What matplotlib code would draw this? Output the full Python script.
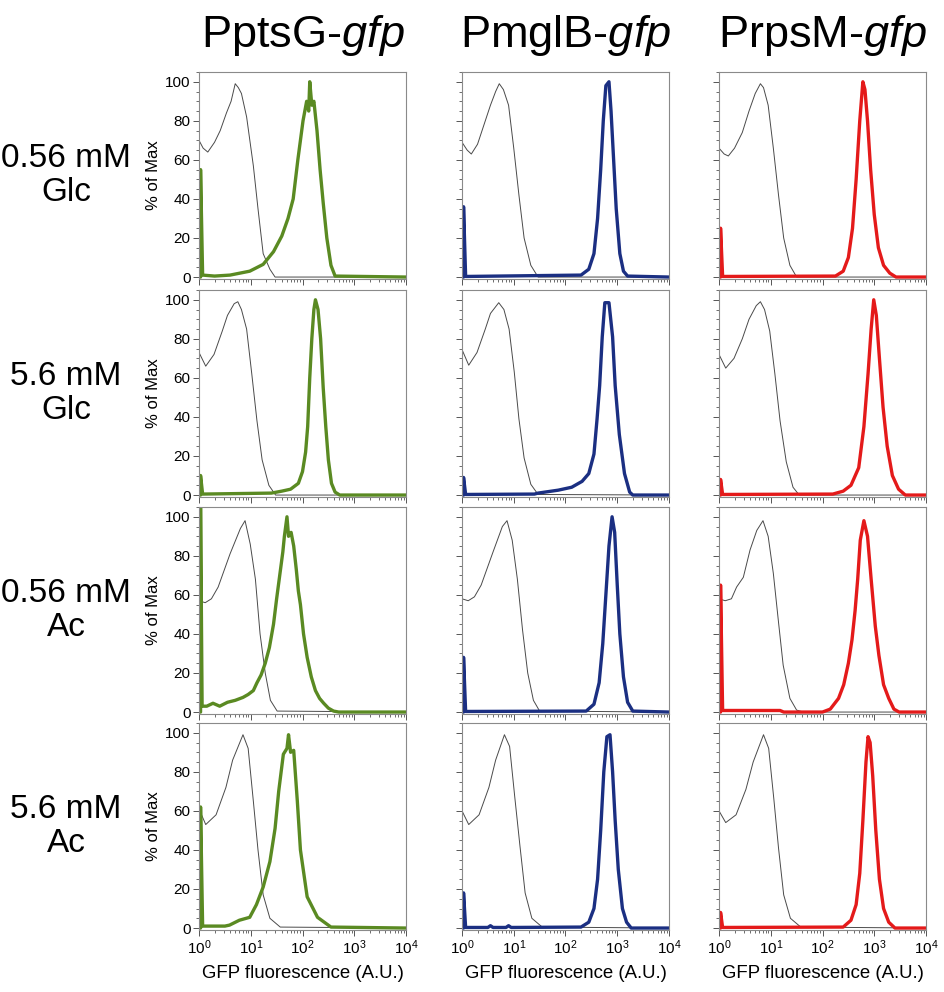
import numpy as np
import matplotlib
matplotlib.use("Agg")
import matplotlib.pyplot as plt
from matplotlib.ticker import MultipleLocator, FixedLocator, NullFormatter, FixedFormatter

plt.rcParams['font.family'] = ['Liberation Sans', 'DejaVu Sans']
plt.rcParams['mathtext.fontset'] = 'custom'
plt.rcParams['mathtext.rm'] = 'Liberation Sans'
plt.rcParams['mathtext.it'] = 'Liberation Sans:italic'

# ---------------- data (log10 of GFP fluorescence, % of Max) ----------------
promoters = ['PptsG', 'PmglB', 'PrpsM']
conditions = ['0.56 mM\nGlc', '5.6 mM\nGlc', '0.56 mM\nAc', '5.6 mM\nAc']
promoter_colors = ['#5a8a22', '#1b2f82', '#e41a1a']
x_tick_exponents = [0, 1, 2, 3, 4]
y_ticks = [0, 20, 40, 60, 80, 100]

# control (non-fluorescent) histograms
ctrl_glc056_ptsg_lx = [0, 0.08, 0.17, 0.3, 0.41, 0.53, 0.62, 0.7, 0.76, 0.82, 0.92, 1.05, 1.14, 1.24, 1.37, 1.47, 4.0]
ctrl_glc056_ptsg_y = [70, 66, 64, 69, 75, 84, 90, 99, 97, 94, 82, 57, 35, 12, 4, 0, 0]
ctrl_glc056_mglb_lx = [0, 0.1, 0.18, 0.3, 0.45, 0.55, 0.65, 0.72, 0.8, 0.9, 1.0, 1.1, 1.2, 1.33, 1.47, 4.0]
ctrl_glc056_mglb_y = [69, 65, 63, 68, 80, 88, 95, 99, 96, 88, 66, 42, 20, 6, 0, 0]
ctrl_glc056_rpsm_lx = [0, 0.1, 0.18, 0.3, 0.45, 0.58, 0.7, 0.8, 0.86, 0.95, 1.05, 1.15, 1.25, 1.37, 1.5, 4.0]
ctrl_glc056_rpsm_y = [66, 63, 62, 66, 74, 85, 94, 99, 97, 88, 66, 42, 20, 6, 0, 0]

ctrl_glc56_ptsg_lx = [0, 0.13, 0.29, 0.45, 0.55, 0.68, 0.75, 0.82, 0.92, 1.02, 1.12, 1.22, 1.35, 1.48, 4.0]
ctrl_glc56_ptsg_y = [73, 66, 72, 84, 92, 98, 99, 95, 85, 62, 38, 18, 5, 0, 0]
ctrl_glc56_mglb_lx = [0, 0.13, 0.29, 0.45, 0.55, 0.71, 0.81, 0.91, 1.01, 1.1, 1.2, 1.33, 1.47, 4.0]
ctrl_glc56_mglb_y = [74.5, 66.5, 73, 85, 93, 98.5, 95, 85, 63, 39, 19, 5.5, 0.3, 0]
ctrl_glc56_rpsm_lx = [0, 0.13, 0.29, 0.45, 0.58, 0.72, 0.8, 0.88, 0.98, 1.08, 1.18, 1.3, 1.43, 1.55, 4.0]
ctrl_glc56_rpsm_y = [72, 65, 70, 80, 90, 97, 99, 95, 84, 62, 38, 17, 4, 0, 0]

ctrl_ac056_ptsg_lx = [0, 0.12, 0.24, 0.37, 0.6, 0.8, 0.89, 0.99, 1.09, 1.18, 1.28, 1.38, 1.51, 4.0]
ctrl_ac056_ptsg_y = [57, 56, 58, 64, 81, 94, 98, 86, 68, 40, 20, 6, 0.5, 0]
ctrl_ac056_mglb_lx = [0, 0.12, 0.24, 0.37, 0.6, 0.78, 0.87, 0.97, 1.07, 1.17, 1.27, 1.38, 1.5, 4.0]
ctrl_ac056_mglb_y = [58, 57, 59, 65, 82, 95, 98, 88, 68, 42, 20, 6, 0.5, 0]
ctrl_ac056_rpsm_lx = [0, 0.12, 0.24, 0.34, 0.47, 0.6, 0.73, 0.85, 0.95, 1.05, 1.15, 1.24, 1.37, 1.5, 1.63, 4.0]
ctrl_ac056_rpsm_y = [58, 57, 58, 64, 69, 83, 93, 98, 90, 71, 46, 24, 7, 1, 0, 0]

ctrl_ac56_ptsg_lx = [0, 0.13, 0.33, 0.52, 0.65, 0.85, 0.95, 1.05, 1.14, 1.24, 1.37, 1.57, 4.0]
ctrl_ac56_ptsg_y = [61, 53, 58, 72, 86, 99, 92, 65, 40, 17, 5, 0.5, 0]
ctrl_ac56_mglb_lx = [0, 0.13, 0.33, 0.52, 0.65, 0.82, 0.92, 1.02, 1.12, 1.22, 1.35, 1.55, 4.0]
ctrl_ac56_mglb_y = [60, 53, 58, 72, 86, 99, 93, 67, 42, 18, 5, 0.5, 0]
ctrl_ac56_rpsm_lx = [0, 0.13, 0.33, 0.52, 0.66, 0.86, 0.96, 1.06, 1.15, 1.25, 1.38, 1.58, 4.0]
ctrl_ac56_rpsm_y = [60, 54, 58, 71, 85, 99, 92, 66, 41, 17, 5, 0.5, 0]

# reporter histograms
gfp_glc056_ptsg_lx = [0, 0.03, 0.03, 0.07, 0.3, 0.6, 0.98, 1.24, 1.44, 1.6, 1.72, 1.82, 1.91, 2.01, 2.08, 2.12, 2.14, 2.18, 2.22, 2.28, 2.34, 2.4, 2.47, 2.55, 2.63, 4.0]
gfp_glc056_ptsg_y = [0, 0, 55, 1, 0.5, 1, 3, 6.5, 13, 21, 30, 40, 60, 80, 90, 85, 100, 88, 90, 75, 55, 38, 20, 6, 0.5, 0]
gfp_glc056_mglb_lx = [0, 0.03, 0.03, 0.07, 2.3, 2.45, 2.55, 2.62, 2.68, 2.73, 2.78, 2.84, 2.88, 2.93, 2.98, 3.05, 3.12, 3.2, 4.0]
gfp_glc056_mglb_y = [0, 0, 36, 0.3, 1, 4, 12, 30, 55, 80, 98, 100, 85, 60, 35, 12, 3, 0.5, 0]
gfp_glc056_rpsm_lx = [0, 0.03, 0.03, 0.07, 2.25, 2.4, 2.5, 2.58, 2.65, 2.72, 2.78, 2.82, 2.87, 2.93, 3.0, 3.08, 3.18, 3.3, 3.42, 4.0]
gfp_glc056_rpsm_y = [0, 0, 25, 0.3, 0.5, 3, 10, 25, 50, 80, 100, 96, 80, 55, 32, 15, 6, 2, 0, 0]

gfp_glc56_ptsg_lx = [0, 0.03, 0.03, 0.07, 1.4, 1.6, 1.77, 1.92, 2.0, 2.06, 2.1, 2.14, 2.18, 2.22, 2.25, 2.3, 2.35, 2.4, 2.45, 2.5, 2.56, 2.63, 2.72, 4.0]
gfp_glc56_ptsg_y = [0, 0, 10, 0.5, 1, 2, 3, 6, 12, 22, 35, 60, 80, 95, 100, 95, 80, 55, 35, 18, 6, 1.5, 0, 0]
gfp_glc56_mglb_lx = [0, 0.03, 0.03, 0.07, 1.4, 1.47, 1.86, 2.12, 2.32, 2.45, 2.55, 2.61, 2.66, 2.71, 2.76, 2.84, 2.91, 2.96, 3.04, 3.14, 3.24, 3.3, 4.0]
gfp_glc56_mglb_y = [0, 0, 9, 0.3, 0.5, 1, 2.5, 4, 7, 11, 21, 39, 56, 81, 98.5, 98.5, 81, 56, 31, 11, 1.5, 0, 0]
gfp_glc56_rpsm_lx = [0, 0.03, 0.03, 0.07, 2.2, 2.4, 2.55, 2.7, 2.8, 2.88, 2.94, 2.99, 3.04, 3.1, 3.17, 3.25, 3.35, 3.47, 3.6, 4.0]
gfp_glc56_rpsm_y = [0, 0, 8, 0.3, 0.5, 2, 5, 14, 35, 62, 85, 100, 92, 70, 45, 25, 10, 3, 0, 0]

gfp_ac056_ptsg_lx = [0, 0.03, 0.03, 0.06, 0.15, 0.27, 0.4, 0.55, 0.7, 0.85, 0.95, 1.05, 1.12, 1.2, 1.28, 1.36, 1.44, 1.5, 1.57, 1.62, 1.65, 1.7, 1.73, 1.78, 1.83, 1.88, 1.92, 1.96, 2.02, 2.09, 2.17, 2.25, 2.33, 2.41, 2.5, 2.6, 2.7, 4.0]
gfp_ac056_ptsg_y = [0, 0, 106, 3, 3, 4.5, 3, 5, 6, 7.5, 9, 11, 15, 19, 25, 33, 45, 58, 72, 82, 90, 100, 90, 92, 85, 73, 62, 55, 40, 28, 18, 11, 7, 4.5, 2, 0.5, 0, 0]
gfp_ac056_mglb_lx = [0, 0.03, 0.03, 0.07, 2.4, 2.55, 2.65, 2.72, 2.78, 2.84, 2.9, 2.95, 3.0, 3.05, 3.12, 3.2, 3.3, 4.0]
gfp_ac056_mglb_y = [0, 0, 28, 0.3, 0.5, 4, 15, 35, 60, 85, 100, 92, 65, 40, 18, 5, 0.5, 0]
gfp_ac056_rpsm_lx = [0, 0.03, 0.03, 0.07, 1.18, 1.25, 2.0, 2.15, 2.31, 2.41, 2.5, 2.57, 2.63, 2.68, 2.73, 2.8, 2.87, 2.94, 3.02, 3.09, 3.18, 3.28, 3.38, 3.48, 4.0]
gfp_ac056_rpsm_y = [0, 0, 65, 0.8, 0.8, 0, 0, 1.5, 7, 14, 25, 37, 52, 68, 88, 98, 90, 68, 44, 29, 14, 7, 1.5, 0, 0]

gfp_ac56_ptsg_lx = [0, 0.03, 0.03, 0.07, 0.5, 0.59, 0.78, 0.98, 1.11, 1.24, 1.37, 1.47, 1.54, 1.63, 1.7, 1.73, 1.77, 1.83, 1.9, 1.96, 2.09, 2.29, 2.55, 4.0]
gfp_ac56_ptsg_y = [0, 0, 62, 1, 1, 1.5, 4, 5.5, 12, 21, 34, 51, 70, 89, 92, 99, 90, 91, 65, 40, 16, 5.5, 0.5, 0]
gfp_ac56_mglb_lx = [0, 0.03, 0.03, 0.07, 0.5, 0.55, 0.6, 0.85, 0.9, 0.95, 2.3, 2.45, 2.55, 2.62, 2.68, 2.74, 2.8, 2.86, 2.91, 2.96, 3.02, 3.1, 3.18, 3.27, 4.0]
gfp_ac56_mglb_y = [0, 0, 18, 0.3, 0.3, 1.2, 0.3, 0.3, 1.2, 0.3, 0.5, 3, 10, 25, 50, 80, 98, 99, 80, 55, 30, 10, 3, 0, 0]
gfp_ac56_rpsm_lx = [0, 0.03, 0.03, 0.07, 2.4, 2.55, 2.65, 2.72, 2.78, 2.84, 2.88, 2.92, 2.97, 3.03, 3.1, 3.18, 3.28, 3.4, 4.0]
gfp_ac56_rpsm_y = [0, 0, 8, 0.3, 0.5, 4, 12, 28, 55, 85, 98, 95, 78, 50, 25, 10, 3, 0, 0]

ctrl_curves = [
    [(ctrl_glc056_ptsg_lx, ctrl_glc056_ptsg_y), (ctrl_glc056_mglb_lx, ctrl_glc056_mglb_y), (ctrl_glc056_rpsm_lx, ctrl_glc056_rpsm_y)],
    [(ctrl_glc56_ptsg_lx, ctrl_glc56_ptsg_y), (ctrl_glc56_mglb_lx, ctrl_glc56_mglb_y), (ctrl_glc56_rpsm_lx, ctrl_glc56_rpsm_y)],
    [(ctrl_ac056_ptsg_lx, ctrl_ac056_ptsg_y), (ctrl_ac056_mglb_lx, ctrl_ac056_mglb_y), (ctrl_ac056_rpsm_lx, ctrl_ac056_rpsm_y)],
    [(ctrl_ac56_ptsg_lx, ctrl_ac56_ptsg_y), (ctrl_ac56_mglb_lx, ctrl_ac56_mglb_y), (ctrl_ac56_rpsm_lx, ctrl_ac56_rpsm_y)],
]
gfp_curves = [
    [(gfp_glc056_ptsg_lx, gfp_glc056_ptsg_y), (gfp_glc056_mglb_lx, gfp_glc056_mglb_y), (gfp_glc056_rpsm_lx, gfp_glc056_rpsm_y)],
    [(gfp_glc56_ptsg_lx, gfp_glc56_ptsg_y), (gfp_glc56_mglb_lx, gfp_glc56_mglb_y), (gfp_glc56_rpsm_lx, gfp_glc56_rpsm_y)],
    [(gfp_ac056_ptsg_lx, gfp_ac056_ptsg_y), (gfp_ac056_mglb_lx, gfp_ac056_mglb_y), (gfp_ac056_rpsm_lx, gfp_ac056_rpsm_y)],
    [(gfp_ac56_ptsg_lx, gfp_ac56_ptsg_y), (gfp_ac56_mglb_lx, gfp_ac56_mglb_y), (gfp_ac56_rpsm_lx, gfp_ac56_rpsm_y)],
]

# ---------------- layout ----------------
W, H = 945, 992
fig = plt.figure(figsize=(W / 100, H / 100), dpi=100)
col_left = [199, 462, 719]
row_top = [72, 290, 507, 723]
pw, ph = 207, 207

for r in range(4):
    for c in range(3):
        ax = fig.add_axes([col_left[c] / W, 1 - (row_top[r] + ph) / H, pw / W, ph / H])
        lx, y = ctrl_curves[r][c]
        ax.plot(10 ** np.array(lx), y, color='#4a4a4a', lw=0.7)
        lx, y = gfp_curves[r][c]
        ax.plot(10 ** np.array(lx), y, color=promoter_colors[c], lw=2.4)
        ax.set_xscale('log')
        ax.set_xlim(1, 1e4)
        ax.set_ylim(-1, 105)
        for s in ax.spines.values():
            s.set_color('#8a8a8a')
            s.set_linewidth(0.8)
        ax.xaxis.set_major_locator(FixedLocator([10.0 ** e for e in x_tick_exponents]))
        minors = [m * 10.0 ** e for e in x_tick_exponents[:-1] for m in range(2, 10)]
        ax.xaxis.set_minor_locator(FixedLocator(minors))
        ax.xaxis.set_minor_formatter(NullFormatter())
        ax.yaxis.set_major_locator(FixedLocator(y_ticks))
        ax.yaxis.set_minor_locator(MultipleLocator(5))
        ax.tick_params(which='major', direction='out', length=4, width=0.7, color='#555555', labelsize=11, pad=2)
        ax.tick_params(which='minor', direction='out', length=2, width=0.6, color='#555555')
        if r == 3:
            ax.xaxis.set_major_formatter(FixedFormatter([r'$\mathregular{10^{%d}}$' % e for e in x_tick_exponents]))
            ax.set_xlabel('GFP fluorescence (A.U.)', fontsize=13.4, labelpad=6)
        else:
            ax.xaxis.set_major_formatter(NullFormatter())
        if c == 0:
            ax.set_yticklabels([str(v) for v in y_ticks])
            ax.set_ylabel('% of Max', fontsize=12, labelpad=3)
        else:
            ax.yaxis.set_major_formatter(NullFormatter())

for c in range(3):
    fig.text((col_left[c] + pw / 2) / W, 1 - 35 / H, promoters[c] + r'-$\mathit{gfp}$',
             ha='center', va='center', fontsize=32.5)
for r in range(4):
    fig.text(66 / W, 1 - (row_top[r] + ph / 2) / H, conditions[r], ha='center', va='center',
             fontsize=24, linespacing=1.15)

fig.savefig('out.png', dpi=100)
